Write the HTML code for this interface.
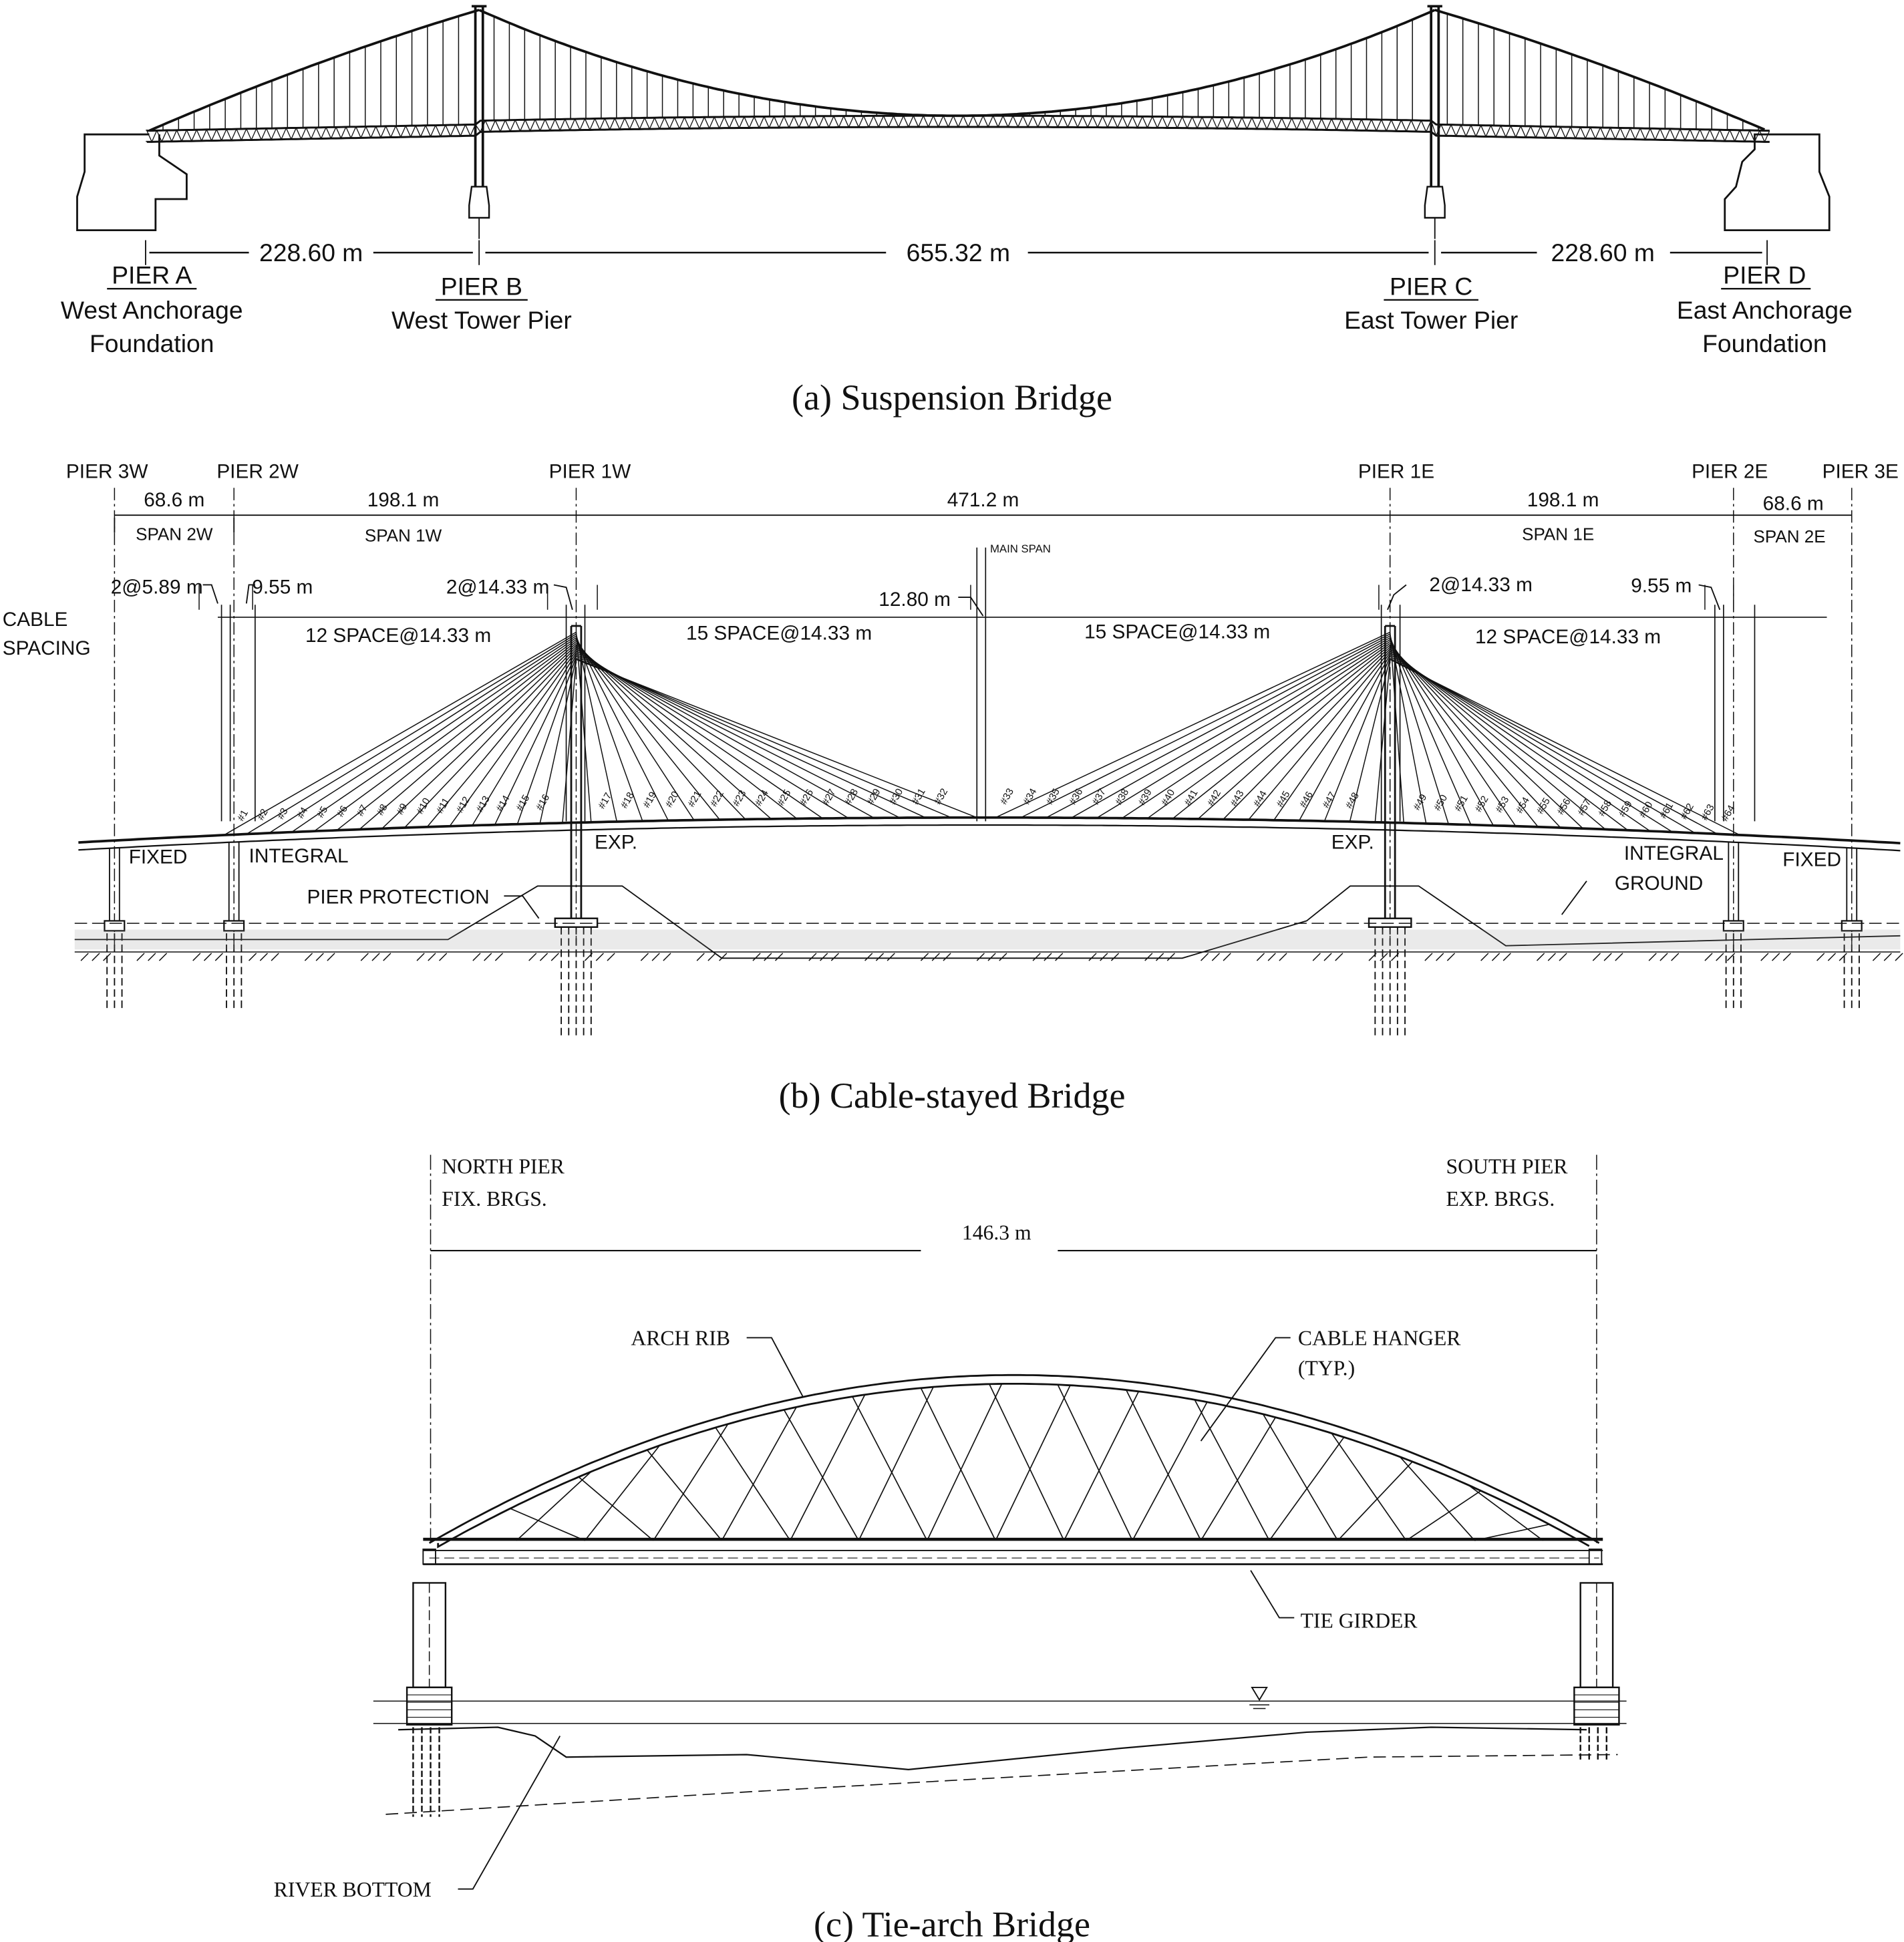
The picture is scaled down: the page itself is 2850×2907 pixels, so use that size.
<!DOCTYPE html>
<html><head><meta charset="utf-8"><style>
html,body{margin:0;padding:0;background:#fff}
svg{display:block}
.s{font-family:"Liberation Sans",sans-serif;fill:#111}
.r{font-family:"Liberation Serif",serif;fill:#111}
</style></head><body>
<svg id="g" width="2850" height="2907" viewBox="0 0 1530 1560.6" preserveAspectRatio="none" xmlns="http://www.w3.org/2000/svg">
<rect width="1530" height="1561" fill="#fff"/>
<g id="d" stroke="#111" fill="none" stroke-width="1.2"></g>
<g class="s" font-size="20" text-anchor="middle">
<text x="250" y="210">228.60 m</text><text x="770" y="210">655.32 m</text><text x="1288" y="210">228.60 m</text>
<text x="122" y="228">PIER A</text><text x="122" y="256">West Anchorage</text><text x="122" y="283">Foundation</text>
<text x="387" y="237">PIER B</text><text x="387" y="264">West Tower Pier</text>
<text x="1150" y="237">PIER C</text><text x="1150" y="264">East Tower Pier</text>
<text x="1418" y="228">PIER D</text><text x="1418" y="256">East Anchorage</text><text x="1418" y="283">Foundation</text>
</g>
<text class="r" x="765" y="329" font-size="29" text-anchor="middle">(a) Suspension Bridge</text>
<g class="s" font-size="16" text-anchor="middle">
<text x="86" y="384">PIER 3W</text><text x="207" y="384">PIER 2W</text><text x="474" y="384">PIER 1W</text>
<text x="1122" y="384">PIER 1E</text><text x="1390" y="384">PIER 2E</text><text x="1495" y="384">PIER 3E</text>
<text x="140" y="407">68.6 m</text><text x="324" y="407">198.1 m</text><text x="790" y="407">471.2 m</text>
<text x="1256" y="407">198.1 m</text><text x="1441" y="410">68.6 m</text>
<text x="140" y="434" font-size="14">SPAN 2W</text><text x="324" y="435" font-size="14">SPAN 1W</text>
<text x="1252" y="434" font-size="14">SPAN 1E</text><text x="1438" y="436" font-size="14">SPAN 2E</text>
<text x="820" y="444" font-size="9">MAIN SPAN</text>
<text x="126" y="477">2@5.89 m</text><text x="227" y="477">9.55 m</text><text x="400" y="477">2@14.33 m</text>
<text x="735" y="487">12.80 m</text><text x="1190" y="475">2@14.33 m</text><text x="1335" y="476">9.55 m</text>
<text x="320" y="516">12 SPACE@14.33 m</text><text x="626" y="514">15 SPACE@14.33 m</text>
<text x="946" y="513">15 SPACE@14.33 m</text><text x="1260" y="517">12 SPACE@14.33 m</text>
<text x="127" y="694">FIXED</text><text x="240" y="693">INTEGRAL</text><text x="495" y="682">EXP.</text>
<text x="1087" y="682">EXP.</text><text x="1345" y="691">INTEGRAL</text><text x="1456" y="696">FIXED</text>
<text x="320" y="726">PIER PROTECTION</text><text x="1333" y="715">GROUND</text>
</g>
<text class="s" x="2" y="503" font-size="16">CABLE</text>
<text class="s" x="2" y="526" font-size="16">SPACING</text>
<text class="r" x="765" y="890" font-size="29" text-anchor="middle">(b) Cable-stayed Bridge</text>
<g class="r" font-size="17">
<text x="355" y="943">NORTH PIER</text><text x="355" y="969">FIX. BRGS.</text>
<text x="1162" y="943">SOUTH PIER</text><text x="1162" y="969">EXP. BRGS.</text>
<text x="773" y="996">146.3 m</text>
<text x="507" y="1081">ARCH RIB</text>
<text x="1043" y="1081">CABLE HANGER</text><text x="1043" y="1105">(TYP.)</text>
<text x="1045" y="1308">TIE GIRDER</text>
<text x="220" y="1524">RIVER BOTTOM</text>
</g>
<text class="r" x="765" y="1556" font-size="29" text-anchor="middle">(c) Tie-arch Bridge</text>
</svg>
<script>
var g=document.getElementById('d'),o='';
function L(a,b,c,d,w,da){o+='<line x1="'+a+'" y1="'+b+'" x2="'+c+'" y2="'+d+'"'+(w?' stroke-width="'+w+'"':'')+(da?' stroke-dasharray="'+da+'"':'')+'/>';}
function P(d,w,da,f){o+='<path d="'+d+'"'+(w?' stroke-width="'+w+'"':'')+(da?' stroke-dasharray="'+da+'"':'')+(f?' fill="'+f+'"':'')+'/>';}
function cm(x){return 93-85*Math.pow((x-769)/384,2);}
function cs(x,x0,x1){var t=(x-x0)/(x1-x0);var ya=8,yb=105;return ya+(yb-ya)*t-18*t*(1-t);}
function dk(x){if(x>=385&&x<=1153)return 97-4*(1-Math.pow((x-769)/384,2));return 100+(x<385?(385-x)/265:(x-1153)/267)*5;}
var s='M120 105';for(var x=120;x<=385;x+=5)s+=' L'+x+' '+cs(x,385,120).toFixed(1);P(s,2);
s='M385 8';for(x=385;x<=1153;x+=4)s+=' L'+x+' '+cm(x).toFixed(1);P(s,2);
s='M1153 8';for(x=1153;x<=1420;x+=5)s+=' L'+x+' '+cs(x,1153,1420).toFixed(1);P(s,2);
for(x=131;x<380;x+=12.5)L(x,cs(x,385,120),x,dk(x),0.8);
for(x=397;x<1145;x+=12.3)L(x,cm(x),x,dk(x),0.8);
for(x=1163;x<1415;x+=12.5)L(x,cs(x,1153,1420),x,dk(x),0.8);
var t1='M118 '+dk(118),t2='M118 '+(dk(118)+9);
for(x=118;x<=1422;x+=4){t1+=' L'+x+' '+dk(x).toFixed(1);t2+=' L'+x+' '+(dk(x)+9).toFixed(1);}
P(t1,1.6);P(t2,1.6);
for(x=118;x<1420;x+=8){L(x,dk(x),x+4,dk(x+4)+9,0.7);L(x+4,dk(x+4)+9,x+8,dk(x+8),0.7);}
[385,1153].forEach(function(tx){L(tx-3,5,tx-3,150,2);L(tx+3,5,tx+3,150,2);L(tx-6,5,tx+6,5,2);
P('M'+(tx-6)+' 150 L'+(tx+6)+' 150 L'+(tx+8)+' 165 L'+(tx+8)+' 175 L'+(tx-8)+' 175 L'+(tx-8)+' 165 Z',1.3);L(tx,175,tx,192,1);});
P('M120 108 L68 108 L68 138 L62 158 L62 185 L125 185 L125 160 L150 160 L150 140 L128 125 L128 108',1.5);
P('M1410 108 L1462 108 L1462 138 L1470 158 L1470 185 L1386 185 L1386 160 L1395 150 L1400 130 L1410 120 Z',1.5);
L(117,193,117,213,1);L(385,193,385,213,1);L(1153,193,1153,213,1);L(1420,193,1420,213,1);
L(120,203,200,203,1.3);L(300,203,380,203,1.3);L(390,203,712,203,1.3);L(826,203,1148,203,1.3);L(1158,203,1235,203,1.3);L(1342,203,1416,203,1.3);
L(86,232,158,232,1.3);L(350,241,424,241,1.3);L(1112,241,1188,241,1.3);L(1383,232,1455,232,1.3);
function bd(x){return 657+20*Math.pow(Math.abs(x-790)/727,2);}
var piers=[92,188,463,1117,1393,1488];
piers.forEach(function(p){L(p,392,p,760,0.8,'10 3 2 3');});
[92,188].forEach(function(p){L(p,416,p,428,1);});
L(92,414,1488,414,1);
s='M63 '+bd(63);for(x=63;x<=1527;x+=6)s+=' L'+x+' '+bd(x).toFixed(1);P(s,2);
s='M63 '+(bd(63)+6);for(x=63;x<=1527;x+=6)s+=' L'+x+' '+(bd(x)+6).toFixed(1);P(s,1.2);
[463,1117].forEach(function(tx){L(tx-4,503,tx-4,740,1.5);L(tx+4,503,tx+4,740,1.5);L(tx-4,503,tx+4,503,1.5);
o+='<rect x="'+(tx-17)+'" y="738" width="34" height="7" fill="#fff" stroke-width="1.3"/>';
for(var k=-12;k<=12;k+=6)L(tx+k,745,tx+k,832,1,'6 3');});
function fan(tx,x0,x1,n){for(var i=0;i<n;i++){var x=x0+(x1-x0)*i/(n-1);var ya=508+i*1.5;L(tx,Math.min(ya,530),x,bd(x),0.8);}}
fan(463,180,452,16);fan(463,475,785,16);fan(1117,800,1105,16);fan(1117,1128,1398,16);
[92,188,1393,1488].forEach(function(p){L(p-4,bd(p)+6,p-4,742,1);L(p+4,bd(p)+6,p+4,742,1);
o+='<rect x="'+(p-8)+'" y="740" width="16" height="8" fill="#fff"/>';
L(p-6,750,p-6,810,1,'6 3');L(p+6,750,p+6,810,1,'6 3');L(p,750,p,810,1,'6 3');});
L(60,742,1527,742,0.8,'10 4');L(60,765,1527,765,0.8);
P('M60 755 L360 755 L432 712 L500 712 L580 770 L950 770 L1050 740 L1085 712 L1140 712 L1210 760 L1527 752',1);
o+='<rect x="60" y="747" width="1467" height="16" fill="#888" opacity="0.18" stroke="none"/>';
for(x=65;x<1525;x+=45)P('M'+x+' 772 l6 -6 m3 6 l6 -6 m3 6 l6 -6',0.8);
L(175,496,1468,496,0.9);L(792,440,792,660,0.9);L(785,440,785,660,0.9);
[178,185,205,455,470,1110,1125,1378,1385,1410].forEach(function(p){L(p,486,p,660,0.9);});
[160,203,440,480,780,1108,1370,1393].forEach(function(p){L(p,470,p,490,0.8);});
var f='';
for(var i=1;i<=64;i++){var xx;
 if(i<=16)xx=195+(i-1)*16;else if(i<=32)xx=485+(i-17)*18;else if(i<=48)xx=808+(i-33)*18.5;else xx=1140+(i-49)*16.5;
 f+='<text x="'+xx+'" y="'+(bd(xx)-10)+'" transform="rotate(-60 '+xx+' '+(bd(xx)-10)+')">#'+i+'</text>';}
L(346,928,346,1240,0.8,'12 3 2 3');L(1283,928,1283,1240,0.8,'12 3 2 3');
L(346,1005,740,1005,1.2);L(850,1005,1283,1005,1.2);
function ar(x){return 1240-135*(1-Math.pow((x-815)/470,2));}
s='M345 1240';for(x=345;x<=1285;x+=5)s+=' L'+x+' '+ar(x).toFixed(1);P(s,1.5);
s='M352 1240';for(x=352;x<=1278;x+=5)s+=' L'+x+' '+(ar(x)+7).toFixed(1);P(s,1.5);
for(x=360;x<1280;x+=55){var a1=x+60,a2=x-60;if(a1<1275)L(x,1238,a1,ar(a1)+7,0.9);if(a2>355)L(x,1238,a2,ar(a2)+7,0.9);}
L(340,1237,1288,1237,2.5);L(340,1246,1288,1246,1);L(340,1257,1288,1257,1.5);L(345,1252,1285,1252,0.6,'8 4');
P('M340 1245 h10 v12 h-10 z',1);P('M1277 1245 h10 v12 h-10 z',1);
[[332,358],[1270,1296]].forEach(function(c){P('M'+c[0]+' 1272 h'+(c[1]-c[0])+' v84 h-'+(c[1]-c[0])+' z',1.3);
 L((c[0]+c[1])/2,1272,(c[0]+c[1])/2,1356,0.8,'8 3');
 o+='<rect x="'+(c[0]-5)+'" y="1356" width="'+(c[1]-c[0]+10)+'" height="30" fill="#fff" stroke-width="1.3"/>';
 for(var yy=1362;yy<1386;yy+=6)L(c[0]-5,yy,c[1]+5,yy,0.6);
 for(var xx=c[0];xx<=c[1];xx+=7)L(xx,1388,xx,c[0]<400?1460:1415,1.3,'5 2');});
L(300,1367,1307,1367,0.8);L(300,1385,1307,1385,0.8);
P('M1006 1356 l12 0 l-6 10 z',1);L(1004,1370,1020,1370,0.8);L(1007,1373,1017,1373,0.8);
P('M320 1390 L400 1388 L430 1395 L455 1412 L600 1410 L730 1422 L900 1405 L1050 1392 L1150 1388 L1275 1390',1.2);
P('M310 1458 L600 1440 L1100 1412 L1300 1410',0.9,'10 5');
P('M600 1075 L620 1075 L645 1122',1);P('M1037 1075 L1025 1075 L965 1158',1);
P('M1040 1300 L1028 1300 L1005 1262',1);P('M368 1518 L380 1518 L450 1395',1);
P('M405 720 L420 720 L433 738',1);P('M1275 708 L1255 735',1);
P('M163 470 L170 470 L175 485',1);P('M205 470 L200 470 L198 485',1);P('M445 470 L455 472 L460 490',1);
P('M770 480 L780 480 L790 495',1);P('M1130 470 L1120 478 L1115 490',1);P('M1365 470 L1375 472 L1382 490',1);
g.innerHTML=o;
var ns='http://www.w3.org/2000/svg',tg=document.createElementNS(ns,'g');tg.setAttribute('class','s');tg.setAttribute('font-size','8');
tg.innerHTML=f;document.getElementById('g').appendChild(tg);
</script>
</body></html>
